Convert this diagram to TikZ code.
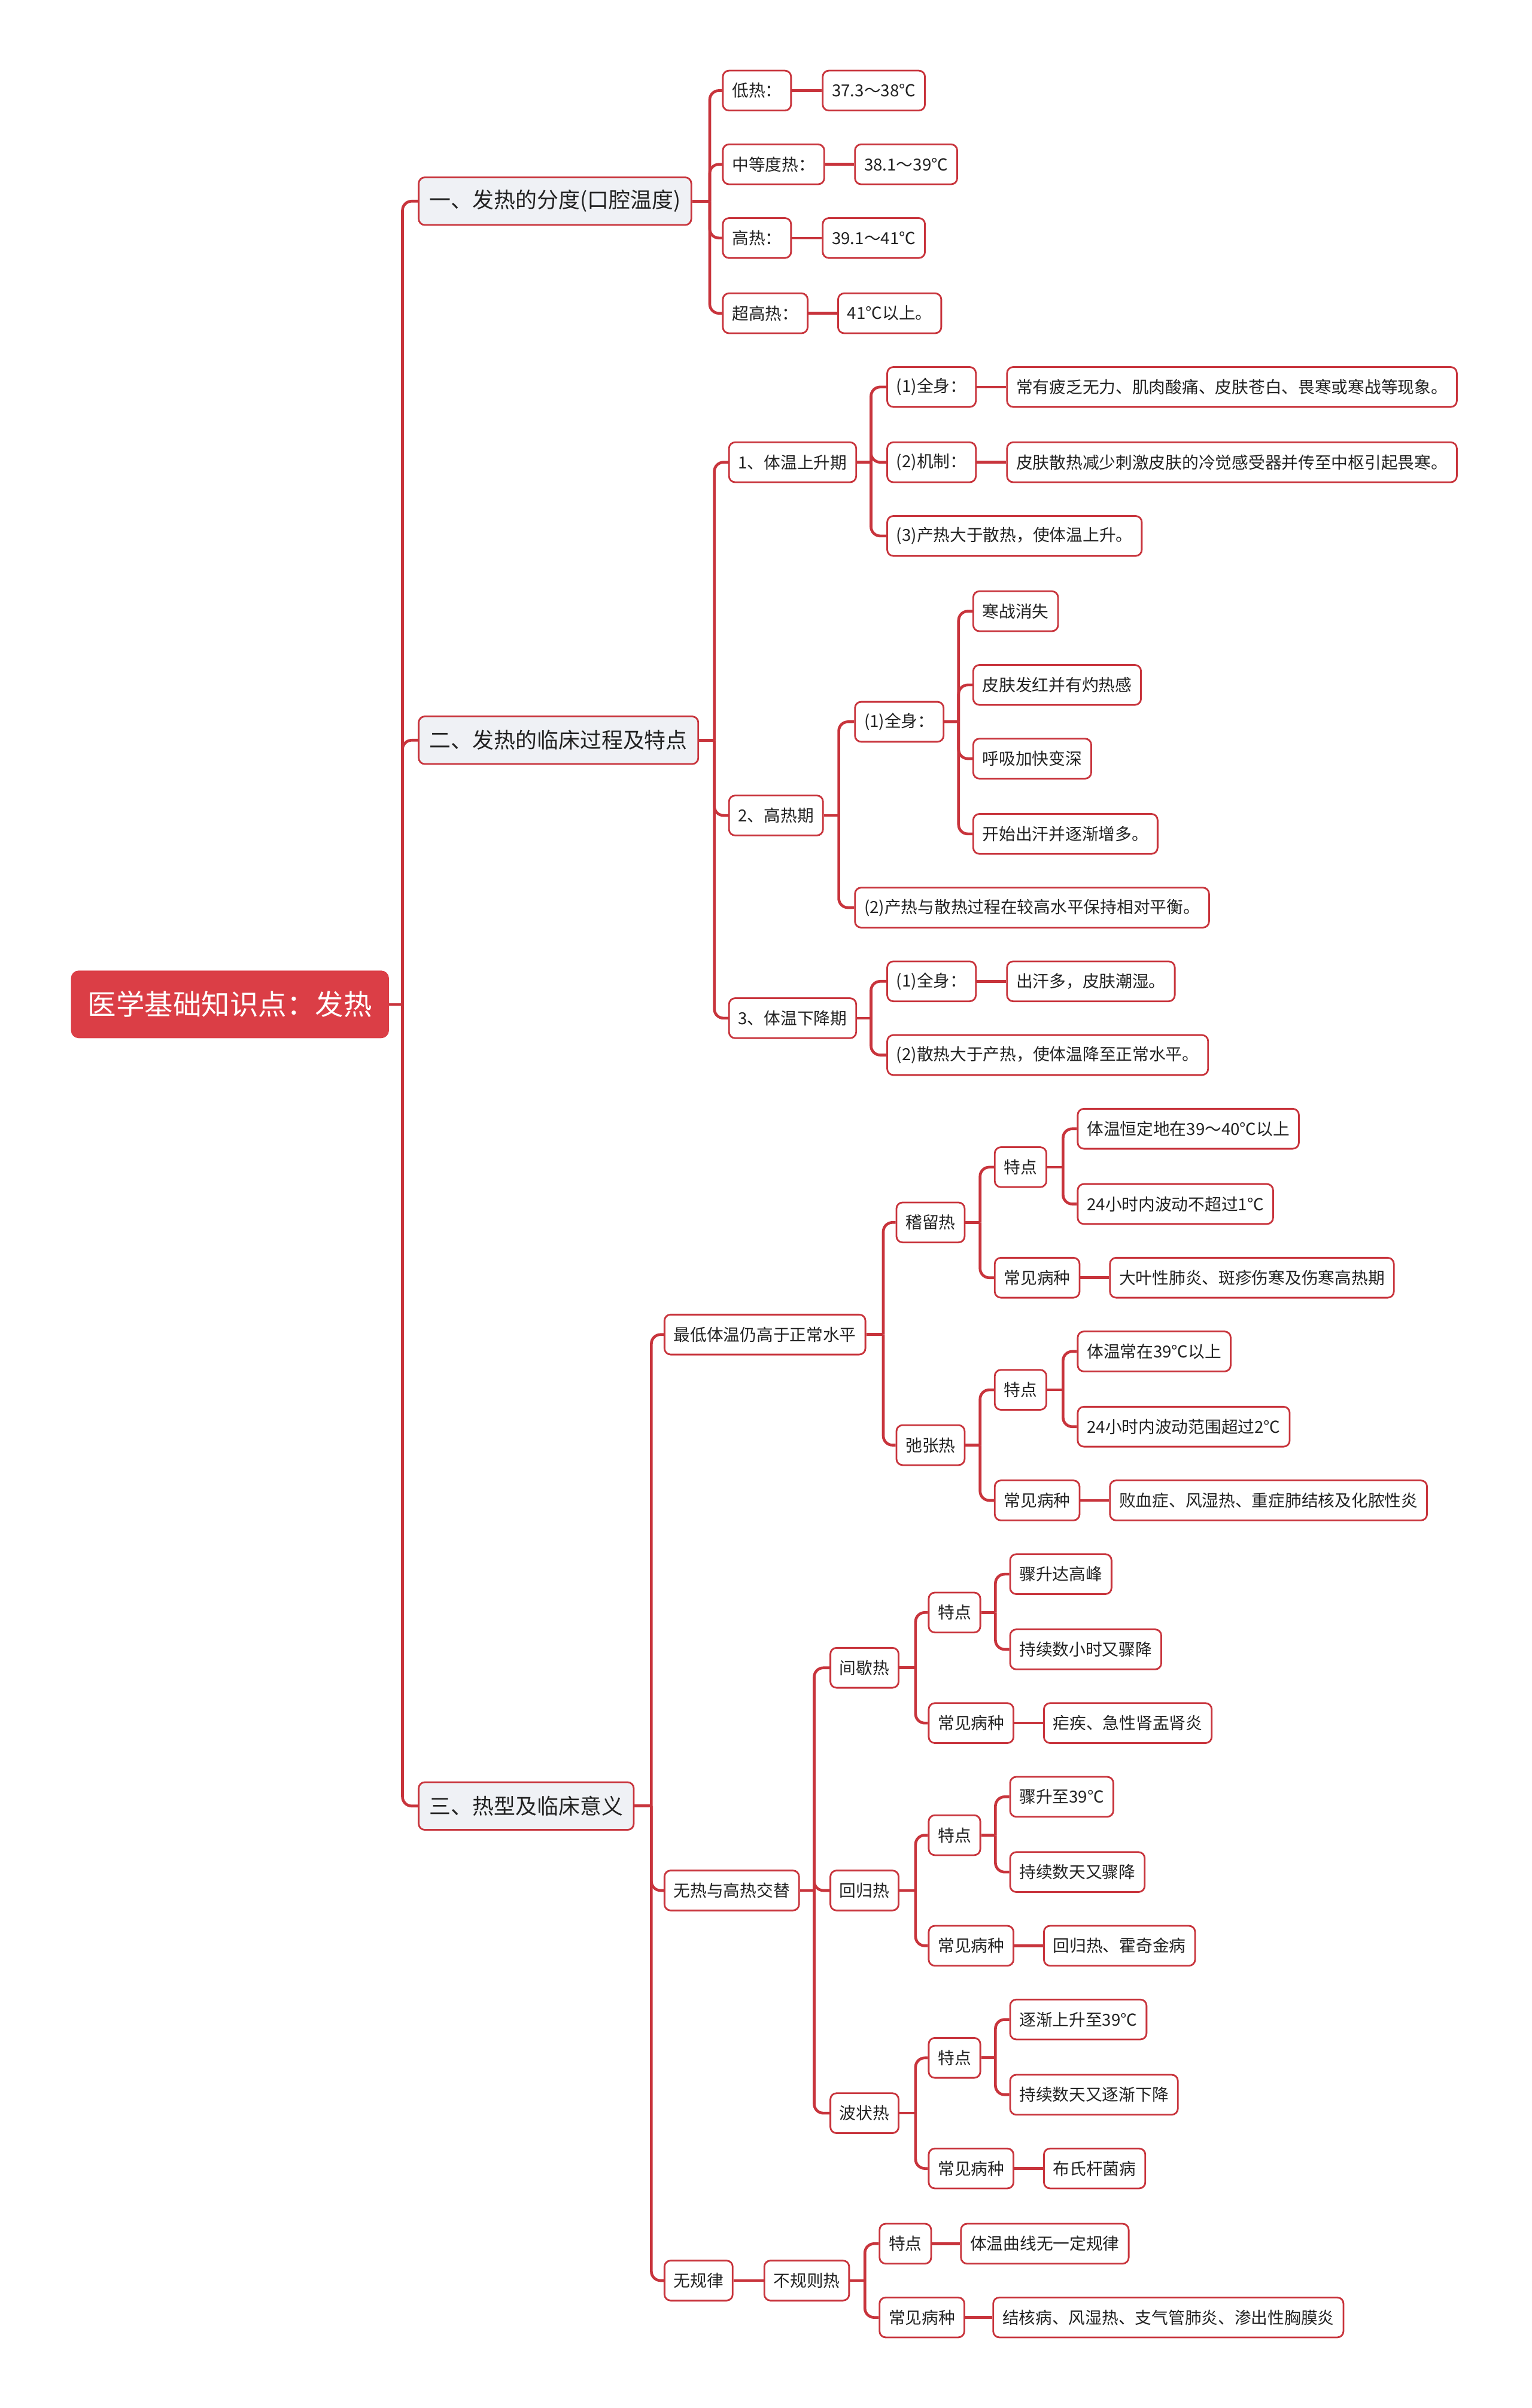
\documentclass[tikz,border=0pt]{standalone}
\usepackage{fontspec}
\setmainfont{Noto Sans CJK SC}
\usepackage{xcolor}
\definecolor{rootred}{RGB}{219,62,70}
\definecolor{linered}{RGB}{200,52,60}
\definecolor{topicgray}{RGB}{239,241,245}
\definecolor{inkgray}{RGB}{34,34,34}
\tikzset{
  root/.style={anchor=west, fill=rootred, text=white, rounded corners=5pt,
    minimum height=44pt, inner xsep=11pt, font=\fontsize{18.5}{20}\selectfont},
  topic/.style={anchor=west, fill=topicgray, draw=linered, line width=1.1pt,
    rounded corners=4pt, minimum height=31pt, inner xsep=7pt, text=inkgray,
    font=\fontsize{14}{16}\selectfont},
  leaf/.style={anchor=west, fill=white, draw=linered, line width=1.1pt,
    rounded corners=4pt, minimum height=26pt, inner xsep=6pt, text=inkgray,
    font=\fontsize{10.8}{12}\selectfont},
  link/.style={draw=linered, line width=1.8pt, rounded corners=6pt},
}
\newcommand{\fork}[3]{%
  \draw[link] (#1.east) -- (#1.east -| #2,0) coordinate (#1-bus);
  \foreach \c in {#3}{%
    \draw[link] (#1-bus) |- (\c.west);
  }%
}

\begin{document}
\begin{tikzpicture}[x=1pt, y=-1pt]
  \useasboundingbox (0,0) rectangle (997,1568);

  \node[root] (root) at (46,654) {医学基础知识点：发热};
  \node[topic] (degree) at (272,131) {一、发热的分度(口腔温度)};
  \node[topic] (course) at (272,482) {二、发热的临床过程及特点};
  \node[topic] (types) at (272,1176) {三、热型及临床意义};

  % 分度
  \node[leaf] (low) at (470,59) {低热：};
  \node[leaf] (lowv) at (535,59) {37.3～38℃};
  \node[leaf] (mid) at (470,107) {中等度热：};
  \node[leaf] (midv) at (556,107) {38.1～39℃};
  \node[leaf] (high) at (470,155) {高热：};
  \node[leaf] (highv) at (535,155) {39.1～41℃};
  \node[leaf] (hyper) at (470,204) {超高热：};
  \node[leaf] (hyperv) at (545,204) {41℃以上。};

  % 临床过程
  \node[leaf] (rise) at (474,301) {1、体温上升期};
  \node[leaf] (riseA) at (577,252) {(1)全身：};
  \node[leaf] (riseAv) at (655,252) {常有疲乏无力、肌肉酸痛、皮肤苍白、畏寒或寒战等现象。};
  \node[leaf] (riseB) at (577,301) {(2)机制：};
  \node[leaf] (riseBv) at (655,301) {皮肤散热减少刺激皮肤的冷觉感受器并传至中枢引起畏寒。};
  \node[leaf] (riseC) at (577,349) {(3)产热大于散热，使体温上升。};

  \node[leaf] (peak) at (474,531) {2、高热期};
  \node[leaf] (peakA) at (556,470) {(1)全身：};
  \node[leaf] (peakA1) at (633,398) {寒战消失};
  \node[leaf] (peakA2) at (633,446) {皮肤发红并有灼热感};
  \node[leaf] (peakA3) at (633,494) {呼吸加快变深};
  \node[leaf] (peakA4) at (633,543) {开始出汗并逐渐增多。};
  \node[leaf] (peakB) at (556,591) {(2)产热与散热过程在较高水平保持相对平衡。};

  \node[leaf] (fall) at (474,663) {3、体温下降期};
  \node[leaf] (fallA) at (577,639) {(1)全身：};
  \node[leaf] (fallAv) at (655,639) {出汗多，皮肤潮湿。};
  \node[leaf] (fallB) at (577,687) {(2)散热大于产热，使体温降至正常水平。};

  % 热型
  \node[leaf] (keep) at (432,869) {最低体温仍高于正常水平};
  \node[leaf] (jl) at (583,796) {稽留热};
  \node[leaf] (jlF) at (647,760) {特点};
  \node[leaf] (jlF1) at (701,735) {体温恒定地在39～40℃以上};
  \node[leaf] (jlF2) at (701,784) {24小时内波动不超过1℃};
  \node[leaf] (jlD) at (647,832) {常见病种};
  \node[leaf] (jlDv) at (722,832) {大叶性肺炎、斑疹伤寒及伤寒高热期};
  \node[leaf] (zz) at (583,941) {弛张热};
  \node[leaf] (zzF) at (647,905) {特点};
  \node[leaf] (zzF1) at (701,880) {体温常在39℃以上};
  \node[leaf] (zzF2) at (701,929) {24小时内波动范围超过2℃};
  \node[leaf] (zzD) at (647,977) {常见病种};
  \node[leaf] (zzDv) at (722,977) {败血症、风湿热、重症肺结核及化脓性炎};

  \node[leaf] (swing) at (432,1231) {无热与高热交替};
  \node[leaf] (jx) at (540,1086) {间歇热};
  \node[leaf] (jxF) at (604,1050) {特点};
  \node[leaf] (jxF1) at (657,1025) {骤升达高峰};
  \node[leaf] (jxF2) at (657,1074) {持续数小时又骤降};
  \node[leaf] (jxD) at (604,1122) {常见病种};
  \node[leaf] (jxDv) at (679,1122) {疟疾、急性肾盂肾炎};
  \node[leaf] (hg) at (540,1231) {回归热};
  \node[leaf] (hgF) at (604,1195) {特点};
  \node[leaf] (hgF1) at (657,1170) {骤升至39℃};
  \node[leaf] (hgF2) at (657,1219) {持续数天又骤降};
  \node[leaf] (hgD) at (604,1267) {常见病种};
  \node[leaf] (hgDv) at (679,1267) {回归热、霍奇金病};
  \node[leaf] (bz) at (540,1376) {波状热};
  \node[leaf] (bzF) at (604,1340) {特点};
  \node[leaf] (bzF1) at (657,1315) {逐渐上升至39℃};
  \node[leaf] (bzF2) at (657,1364) {持续数天又逐渐下降};
  \node[leaf] (bzD) at (604,1412) {常见病种};
  \node[leaf] (bzDv) at (679,1412) {布氏杆菌病};

  \node[leaf] (random) at (432,1485) {无规律};
  \node[leaf] (bgz) at (497,1485) {不规则热};
  \node[leaf] (bgzF) at (572,1461) {特点};
  \node[leaf] (bgzFv) at (625,1461) {体温曲线无一定规律};
  \node[leaf] (bgzD) at (572,1509) {常见病种};
  \node[leaf] (bgzDv) at (646,1509) {结核病、风湿热、支气管肺炎、渗出性胸膜炎};

  % connectors
  \fork{root}{262}{degree,course,types}
  \fork{degree}{462}{low,mid,high,hyper}
  \fork{course}{465}{rise,peak,fall}
  \fork{rise}{567}{riseA,riseB,riseC}
  \fork{peak}{546}{peakA,peakB}
  \fork{peakA}{624}{peakA1,peakA2,peakA3,peakA4}
  \fork{fall}{567}{fallA,fallB}
  \fork{types}{424}{keep,swing,random}
  \fork{keep}{575}{jl,zz}
  \fork{jl}{638}{jlF,jlD}
  \fork{jlF}{692}{jlF1,jlF2}
  \fork{zz}{638}{zzF,zzD}
  \fork{zzF}{692}{zzF1,zzF2}
  \fork{swing}{530}{jx,hg,bz}
  \fork{jx}{596}{jxF,jxD}
  \fork{jxF}{648}{jxF1,jxF2}
  \fork{hg}{596}{hgF,hgD}
  \fork{hgF}{648}{hgF1,hgF2}
  \fork{bz}{596}{bzF,bzD}
  \fork{bzF}{648}{bzF1,bzF2}
  \fork{bgz}{563}{bgzF,bgzD}
  \foreach \a/\b in {low/lowv, mid/midv, high/highv, hyper/hyperv,
      riseA/riseAv, riseB/riseBv, fallA/fallAv, jlD/jlDv, zzD/zzDv,
      jxD/jxDv, hgD/hgDv, bzD/bzDv, random/bgz, bgzF/bgzFv, bgzD/bgzDv}
    \draw[link] (\a.east) -- (\b.west);
\end{tikzpicture}
\end{document}
